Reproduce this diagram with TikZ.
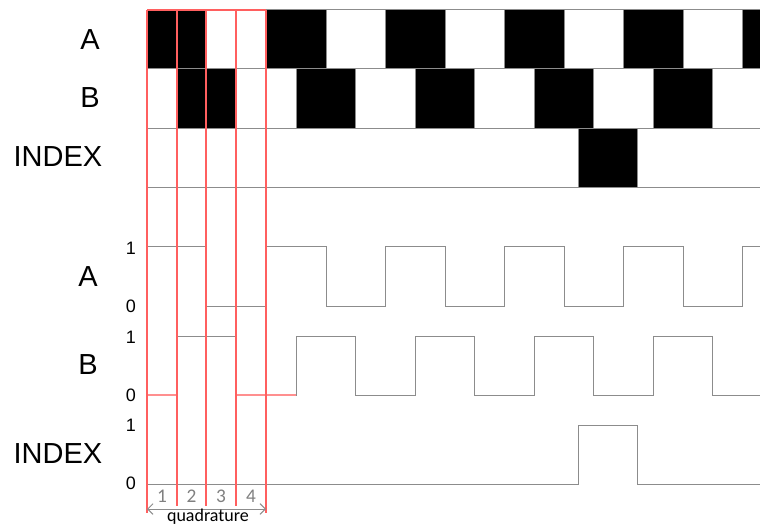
\documentclass[tikz,border=0pt]{standalone}
\usepackage{fontspec}
\setmainfont{Liberation Sans}
\newfontfamily\calib{Carlito}
\usetikzlibrary{arrows.meta}
\definecolor{gry}{RGB}{140,140,140}
\definecolor{redl}{RGB}{255,95,95}
\definecolor{numg}{RGB}{128,128,128}
\begin{document}
\begin{tikzpicture}[x=0.75pt,y=-0.75pt,
  gridline/.style={draw=gry, line width=0.75pt},
  wave/.style={draw=gry, line width=0.75pt, line join=miter},
  redline/.style={draw=redl, line width=1.0pt},
  bigl/.style={font=\fontsize{21.75}{26}\selectfont, inner sep=0pt},
  lvl/.style={font=\fontsize{13.5}{16}\selectfont, inner sep=0pt},
  qnum/.style={font=\calib\fontsize{14.5}{16}\selectfont, text=numg, inner sep=0pt},
  qtext/.style={font=\calib\fontsize{13.5}{16}\selectfont, inner sep=0pt}]
\useasboundingbox (0,0) rectangle (760,527);
\clip (0,0) rectangle (760,527);
\fill[white] (0,0) rectangle (760,527);

% disc row A
\foreach \a/\b in {147/206,266/326,385/445,504/564,623/683,742/760}
  \fill[black] (\a,10) rectangle (\b,69);
% disc row B
\foreach \a/\b in {177/236,296/355,415/474,534/593,653/712}
  \fill[black] (\a,69) rectangle (\b,129);
% index
\fill[black] (578,129) rectangle (637,188);

% grid lines
\foreach \y in {10,69,129,188}
  \draw[gridline] (147,\y) -- (760,\y);
\foreach \x in {206,266,326,385,445,504,564,623,683,742}
  \draw[gridline] (\x,10) -- (\x,69);
\foreach \x in {177,236,296,355,415,474,534,593,653,712}
  \draw[gridline] (\x,69) -- (\x,129);
\draw[gridline] (578,129) -- (578,188);
\draw[gridline] (637,129) -- (637,188);

% waveforms
\draw[wave] (147,247)-|(206,306)-|(266,247)-|(326,306)-|(385,247)-|(445,306)-|(504,247)-|(564,306)-|(623,247)-|(683,306)-|(742,247)--(760,247);
\draw[wave] (147,395)-|(177,336)-|(236,395)-|(296,336)-|(355,395)-|(415,336)-|(474,395)-|(534,336)-|(593,395)-|(653,336)-|(712,395)--(760,395);
\draw[wave] (147,484)-|(578,425)-|(637,484)--(760,484);
\draw[draw=redl!70, line width=0.9pt] (147,395) -- (177,395);
\draw[draw=redl!70, line width=0.9pt] (236,395) -- (296,395);

% red quadrature lines
\draw[redline] (147,10) -- (266,10);
\draw[redline] (147,10) -- (147,513);
\draw[redline] (266,10) -- (266,513);
\foreach \x in {177,206,236}
  \draw[redline] (\x,10) -- (\x,506);

% labels
\node[bigl] (lA1) at (90,40) {A};
\node[bigl] (lB1) at (90,98) {B};
\node[bigl] (lI1) at (58,157) {INDEX};
\node[bigl] (lA2) at (88,277) {A};
\node[bigl] (lB2) at (88,365) {B};
\node[bigl] (lI2) at (58,454) {INDEX};

\node[lvl] (a1) at (131,248) {1};
\node[lvl] (a0) at (131,306) {0};
\node[lvl] (b1) at (131,337) {1};
\node[lvl] (b0) at (131,395) {0};
\node[lvl] (i1) at (131,425) {1};
\node[lvl] (i0) at (131,483) {0};

\node[qnum] (n1) at (162,496) {1};
\node[qnum] (n2) at (191.5,496) {2};
\node[qnum] (n3) at (221,496) {3};
\node[qnum] (n4) at (251,496) {4};

\coordinate (q1) at (147,509);
\coordinate (q2) at (266,509);
\draw[draw=gry, line width=0.75pt, {Straight Barb[length=4pt,width=8pt]}-{Straight Barb[length=4pt,width=8pt]}] (q1) -- (q2);
\node[qtext, anchor=base] (qt) at (208,521.5) {quadrature};
\end{tikzpicture}
\end{document}
